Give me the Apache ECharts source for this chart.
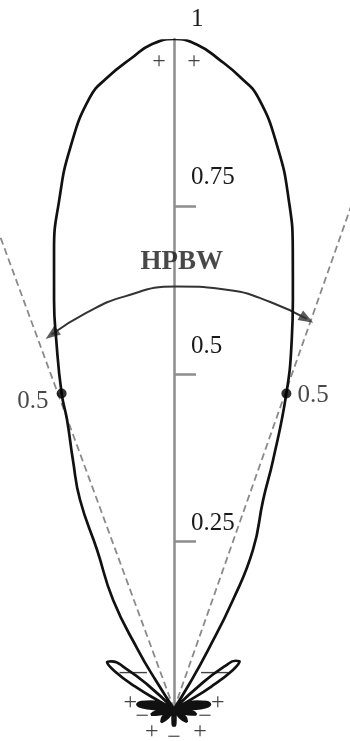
<!DOCTYPE html>
<html>
<head>
<meta charset="utf-8">
<script src="https://cdn.jsdelivr.net/npm/echarts@6/dist/echarts.min.js"></script>
<style>
  html, body { margin: 0; padding: 0; background: #ffffff; }
  #chart { width: 350px; height: 741px; }
</style>
</head>
<body>
<div id="chart"></div>
<script>
// Normalized power pattern, angles in degrees from broadside (0 = straight up).
const rightAngles = [0, 2, 4.05, 6, 7.85, 10.5, 12.7, 14.5, 16.2, 17.7,
  19.6, 21.7, 23.1, 26.4, 28.4, 30.0, 31.5, 33, 45, 47.5,
  50, 52, 54, 56.5, 59, 61, 62.5, 66, 72, 78,
  83, 88, 92, 94, 99, 104, 110, 116, 125, 135,
  145, 155, 163, 170, 175, 180];
const rightValues = [1.000, 0.992, 0.971, 0.948, 0.921, 0.851, 0.779, 0.708, 0.636, 0.578,
  0.500, 0.400, 0.339, 0.265, 0.185, 0.102, 0.045, 0, 0, 0.060,
  0.100, 0.117, 0.121, 0.105, 0.065, 0.025, 0, 0, 0.036, 0.050,
  0.054, 0.040, 0.012, 0, 0.028, 0.034, 0.022, 0, 0.020, 0.027,
  0.015, 0, 0, 0.012, 0.022, 0.026];
const leftAngles = [0, -2, -3.6, -6, -7.85, -10.5, -12.7, -14.65, -16.35, -17.7,
  -19.6, -20.3, -22.1, -24.2, -25.8, -29.2, -31.4, -32.5, -33.5, -45,
  -47.5, -50, -52.5, -55, -57.5, -60, -62, -63.5, -67, -72,
  -78, -83, -88, -92, -94, -99, -104, -110, -116, -125,
  -136, -145, -155, -163, -170, -175, -180];
const leftValues = [1.000, 0.992, 0.975, 0.948, 0.921, 0.851, 0.779, 0.708, 0.636, 0.578,
  0.500, 0.460, 0.401, 0.342, 0.264, 0.186, 0.103, 0.050, 0, 0,
  0.055, 0.095, 0.117, 0.122, 0.105, 0.068, 0.025, 0, 0, 0.036,
  0.050, 0.055, 0.040, 0.012, 0, 0.028, 0.035, 0.022, 0, 0.020,
  0.027, 0.015, 0, 0, 0.012, 0.022, 0.026];

// Radius axis
const radiusTicks = [0.25, 0.5, 0.75];
const radiusLabels = [0.25, 0.5, 0.75, 1];

// Half-power points and beam-edge directions
const halfPowerLevel = 0.5;
const halfPowerAngles = [-19.6, 19.6];
const beamEdgeAngles = [-20.2, 19.4];
const beamEdgeLength = 0.9;

// HPBW arc, sampled as [radius, angle], and its two arrowheads
const hpbwArcRadii  = [0.588, 0.6055, 0.620, 0.6306, 0.6306, 0.624, 0.615];
const hpbwArcAngles = [-18.1, -12.5, -6.9, 0.3, 7.65, 13.4, 18.8];
const arrowRotations = [127, -120];
const hpbwText = 'HPBW';
const hpbwTextPos = [0.667, 1.0];

// Lobe phase signs
const signTexts  = ['+', '+', '—', '—', '+', '+', '−', '−', '+', '+', '−'];
const signRadii  = [0.966, 0.966, 0.082, 0.082, 0.066, 0.066, 0.049, 0.048, 0.0475, 0.052, 0.043];
const signAngles = [-1.33, 1.77, -48, 48, -82, 82, -104, 104.5, -136, 131.5, 180];

// Angular range of the small lobes that print as solid blobs
const minorLobeRange = [64, 162];

const SERIF = '"Liberation Serif", "DejaVu Serif", serif';
const toAxisAngle = a => (a + 360) % 360;

// Closed pattern: left half from -180 up to 0, then right half 0 to 180
const patternData = [];
for (let i = leftAngles.length - 1; i >= 1; i--) {
  patternData.push([leftValues[i], toAxisAngle(leftAngles[i])]);
}
for (let i = 0; i < rightAngles.length; i++) {
  patternData.push([rightValues[i], toAxisAngle(rightAngles[i])]);
}
const inMinor = a => Math.abs(a) >= minorLobeRange[0] && Math.abs(a) <= minorLobeRange[1];
const minorLeft = [];
const minorRight = [];
leftAngles.forEach((a, i) => { if (inMinor(a)) minorLeft.push([leftValues[i], toAxisAngle(a)]); });
rightAngles.forEach((a, i) => { if (inMinor(a)) minorRight.push([rightValues[i], toAxisAngle(a)]); });

const labelRichKey = { '1': 'a', '0.75': 'b', '0.5': 'c', '0.25': 'd' };
const labelBase = { fontFamily: SERIF, fontSize: 25, color: '#1a1a1a' };

const chart = echarts.init(document.getElementById('chart'), null, { renderer: 'canvas' });

const series = [];

// Beam-edge dashed lines
beamEdgeAngles.forEach(a => {
  series.push({
    type: 'line',
    coordinateSystem: 'polar',
    symbol: 'none',
    silent: true,
    z: 2,
    lineStyle: { color: '#8a8a8a', width: 1.8, type: [7, 4] },
    data: [[0, toAxisAngle(a)], [beamEdgeLength, toAxisAngle(a)]]
  });
});

// HPBW arc
series.push({
  type: 'line',
  coordinateSystem: 'polar',
  symbol: 'none',
  smooth: true,
  silent: true,
  z: 3,
  lineStyle: { color: '#333333', width: 2 },
  data: hpbwArcRadii.map((r, i) => [r, toAxisAngle(hpbwArcAngles[i])])
});
// Arrowheads at both arc ends
series.push({
  type: 'scatter',
  coordinateSystem: 'polar',
  symbol: 'triangle',
  symbolSize: [11, 15],
  silent: true,
  z: 3,
  itemStyle: { color: '#333333' },
  data: [0, hpbwArcRadii.length - 1].map((idx, k) => ({
    value: [hpbwArcRadii[idx], toAxisAngle(hpbwArcAngles[idx])],
    symbolRotate: arrowRotations[k]
  }))
});

// Small lobes near the origin, filled solid
[minorLeft, minorRight].forEach(d => {
  series.push({
    type: 'line',
    coordinateSystem: 'polar',
    symbol: 'none',
    smooth: 0.25,
    silent: true,
    z: 4,
    lineStyle: { color: '#111111', width: 1 },
    areaStyle: { color: '#111111', opacity: 1 },
    data: d
  });
});

// Pattern outline
series.push({
  type: 'line',
  coordinateSystem: 'polar',
  symbol: 'none',
  smooth: 0.5,
  silent: true,
  z: 5,
  lineStyle: { color: '#111111', width: 2.7 },
  data: patternData
});

// Half-power points
series.push({
  type: 'scatter',
  coordinateSystem: 'polar',
  symbol: 'circle',
  symbolSize: 10,
  silent: true,
  z: 6,
  itemStyle: { color: '#000000' },
  data: halfPowerAngles.map((a, i) => ({
    value: [halfPowerLevel, toAxisAngle(a)],
    label: {
      show: true,
      position: i === 0 ? 'left' : 'right',
      distance: i === 0 ? 8 : 6,
      offset: i === 0 ? [0, 8] : [0, 2],
      formatter: p => String(p.value[0]),
      ...labelBase
    }
  }))
});

// Text annotations: HPBW and lobe signs
const annotations = [{
  name: hpbwText,
  value: [hpbwTextPos[0], toAxisAngle(hpbwTextPos[1])],
  label: { fontWeight: 'bold', fontSize: 27, color: '#1a1a1a' }
}];
signTexts.forEach((s, i) => {
  annotations.push({
    name: s,
    value: [signRadii[i], toAxisAngle(signAngles[i])],
    label: s === '—' ? { fontSize: 27 } : {}
  });
});
series.push({
  type: 'scatter',
  coordinateSystem: 'polar',
  symbolSize: 0,
  silent: true,
  z: 7,
  label: {
    show: true,
    position: 'inside',
    formatter: '{b}',
    fontFamily: SERIF,
    fontSize: 24,
    color: '#111111'
  },
  data: annotations
});

chart.setOption({
  animation: false,
  backgroundColor: '#ffffff',
  polar: { center: [174, 709], radius: 670 },
  angleAxis: {
    type: 'value', min: 0, max: 360, startAngle: 90, clockwise: true,
    axisLine: { show: false }, axisTick: { show: false },
    axisLabel: { show: false }, splitLine: { show: false }
  },
  radiusAxis: {
    type: 'value', min: 0, max: 1, interval: 0.25,
    z: 1,
    axisLine: { show: true, lineStyle: { color: '#8d8d8d', width: 2.5 } },
    // negative length / margin put ticks and labels on the right-hand side
    axisTick: { show: true, customValues: radiusTicks, length: -22,
      lineStyle: { color: '#8d8d8d', width: 2.5 } },
    axisLabel: {
      show: true,
      customValues: radiusLabels,
      margin: -17,
      align: 'left',
      verticalAlign: 'bottom',
      formatter: v => '{' + labelRichKey[String(v)] + '|' + v + '}',
      rich: {
        a: { ...labelBase, padding: [0, 0, 7, 0] },
        b: { ...labelBase, padding: [0, 0, 17, 0] },
        c: { ...labelBase, padding: [0, 0, 15, 0] },
        d: { ...labelBase, padding: [0, 0, 6, 0] }
      }
    },
    splitLine: { show: false }
  },
  series: series
});
</script>
</body>
</html>
